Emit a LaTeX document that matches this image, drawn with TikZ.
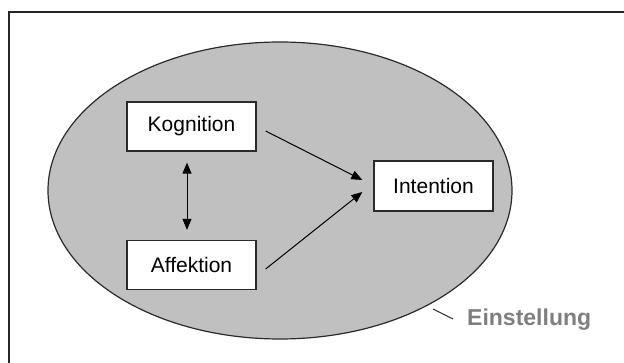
\documentclass[tikz,border=0pt]{standalone}
\usepackage{fontspec}
\setmainfont{Liberation Sans}
\usetikzlibrary{arrows.meta,calc}
\definecolor{ovalgray}{HTML}{C0C0C0}
\definecolor{labelgray}{HTML}{7F7F7F}
\definecolor{edgegray}{HTML}{2A2A2A}
\tikzset{
  box/.style={draw=edgegray, line width=1.3pt, fill=white, minimum width=129pt,
    minimum height=49pt, inner sep=0pt, font=\fontsize{21}{24}\selectfont},
  link/.style={line width=1pt, -{Triangle[length=11pt,width=9pt]}},
  biline/.style={line width=1pt, {Triangle[length=11pt,width=9pt]}-{Triangle[length=11pt,width=9pt]}}
}
\begin{document}
\begin{tikzpicture}[x=1pt,y=-1pt]
  \useasboundingbox (0,0) rectangle (624,363);
  % open frame: top and left edges
  \draw[line width=2pt, black!85] (8.5,363) -- (8.5,12) -- (624,12);
  % attitude oval
  \draw[fill=ovalgray, draw=edgegray, line width=1.2pt] (280,190.5) ellipse [x radius=232, y radius=148.5];
  % components
  \node[box] (kog) at (191.5,126.5) {Kognition};
  \node[box] (aff) at (191.5,265) {Affektion};
  \node[box, minimum width=119pt, minimum height=50pt] (int) at (433.5,186) {Intention};
  % label
  \node[anchor=west, inner sep=0pt, text=labelgray, font=\fontsize{23}{26}\selectfont\bfseries] (einst) at (467,320) {Einstellung};
  \coordinate (rim) at (433,309);
  \coordinate (tick) at (453,319);
  % connectors
  \draw[link] ($(kog.east)+(9,4.5)$) -- ($(int.west)+(-11,-6)$);
  \draw[link] ($(aff.east)+(9,4)$) -- ($(int.west)+(-11,6)$);
  \draw[biline] ($(kog.south)+(-4.5,11)$) -- ($(aff.north)+(-4.5,-10)$);
  \draw[line width=1pt, edgegray] (rim) -- (tick);
\end{tikzpicture}
\end{document}
